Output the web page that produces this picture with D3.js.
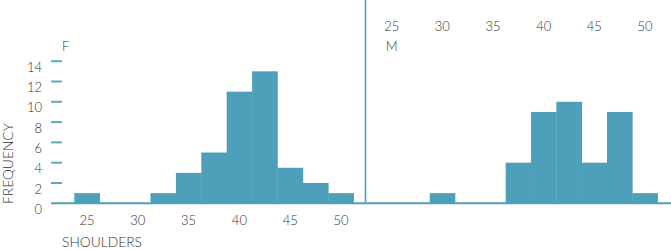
<!DOCTYPE html>
<html>
<head>
<meta charset="utf-8">
<script src="https://cdn.jsdelivr.net/npm/d3@7"></script>
<style>
  body { margin: 0; background: #fff; }
  svg { display: block; }
  text { font-family: Lato, "Open Sans", sans-serif; font-weight: 300; fill: #333; }
</style>
</head>
<body>
<svg id="chart" width="671" height="250"></svg>
<script>

// histogram bins (centre of each 2.5-wide bin)
var bin_centers = [25, 27.5, 30, 32.5, 35, 37.5, 40, 42.5, 45, 47.5, 50];
var female_freq = [1, 0, 0, 1, 3, 5, 11, 13, 3.5, 2, 1];
var male_freq   = [0, 0, 1, 0, 0, 4, 9, 10, 4, 9, 1];
var x_ticks = [25, 30, 35, 40, 45, 50];
var y_ticks = [0, 2, 4, 6, 8, 10, 12, 14];

var bin_width = 2.5;
var bar_color = "#4e9fba";
var tick_color = "#5aa9c3";

var svg = d3.select("#chart");

var y = d3.scaleLinear().domain([0, 14]).range([203.3, 61.2]);

var x_f = d3.scaleLinear().domain([25, 50]).range([87, 341]);
var x_m = d3.scaleLinear().domain([25, 50]).range([391.7, 645]);

var draw_bars = function(data, x, cls) {

    var rows = bin_centers.map(function(c, i) { return {c: c, v: data[i]}; })
        .filter(function(d) { return d.v > 0; });

    svg.append("g")
        .attr("class", cls)
        .selectAll("rect")
        .data(rows)
        .enter().append("rect")
        .attr("x", function(d) { return x(d.c - bin_width / 2); })
        .attr("width", function(d) { return x(d.c + bin_width / 2) - x(d.c - bin_width / 2) + 0.3; })
        .attr("y", function(d) { return y(d.v); })
        .attr("height", function(d) { return y(0) - y(d.v); })
        .attr("fill", bar_color);

};

draw_bars(female_freq, x_f, "bars-f");
draw_bars(male_freq, x_m, "bars-m");

// baseline
svg.append("line")
    .attr("x1", 51).attr("x2", 671)
    .attr("y1", y(0)).attr("y2", y(0))
    .attr("stroke", bar_color)
    .attr("stroke-width", 2);

// divider between panels
svg.append("line")
    .attr("x1", 365.5).attr("x2", 365.5)
    .attr("y1", 0).attr("y2", y(0))
    .attr("stroke", bar_color)
    .attr("stroke-width", 1.6);

// y axis: short dashes + labels
var y_axis = svg.append("g").attr("class", "y-axis");

y_axis.selectAll("line")
    .data(y_ticks.filter(function(d) { return d > 0; }))
    .enter().append("line")
    .attr("x1", 51).attr("x2", 62)
    .attr("y1", function(d) { return y(d); })
    .attr("y2", function(d) { return y(d); })
    .attr("stroke", tick_color)
    .attr("stroke-width", 2);

y_axis.selectAll("text")
    .data(y_ticks)
    .enter().append("text")
    .attr("x", 42)
    .attr("y", function(d) { return y(d) + 6; })
    .attr("dy", "0.35em")
    .attr("text-anchor", "end")
    .style("font-size", "13px")
    .text(function(d) { return d; });

// x axis labels, F panel below, M panel on top
svg.append("g").selectAll("text")
    .data(x_ticks)
    .enter().append("text")
    .attr("x", function(d) { return x_f(d); })
    .attr("y", 220)
    .attr("dy", "0.35em")
    .attr("text-anchor", "middle")
    .style("font-size", "13px")
    .text(function(d) { return d; });

svg.append("g").selectAll("text")
    .data(x_ticks)
    .enter().append("text")
    .attr("x", function(d) { return x_m(d); })
    .attr("y", 26)
    .attr("dy", "0.35em")
    .attr("text-anchor", "middle")
    .style("font-size", "13px")
    .text(function(d) { return d; });

// panel labels
svg.append("text")
    .attr("x", 62).attr("y", 46).attr("dy", "0.35em")
    .style("font-size", "13px")
    .text("F");

svg.append("text")
    .attr("x", x_m(25)).attr("y", 46.5).attr("dy", "0.35em")
    .attr("text-anchor", "middle")
    .style("font-size", "13px")
    .text("M");

// axis titles
svg.append("text")
    .attr("transform", "translate(12.5,204) rotate(-90)")
    .style("font-size", "13.8px")
    .text("FREQUENCY");

svg.append("text")
    .attr("x", 62).attr("y", 246.5)
    .style("font-size", "13.8px")
    .text("SHOULDERS");

</script>
</body>
</html>
